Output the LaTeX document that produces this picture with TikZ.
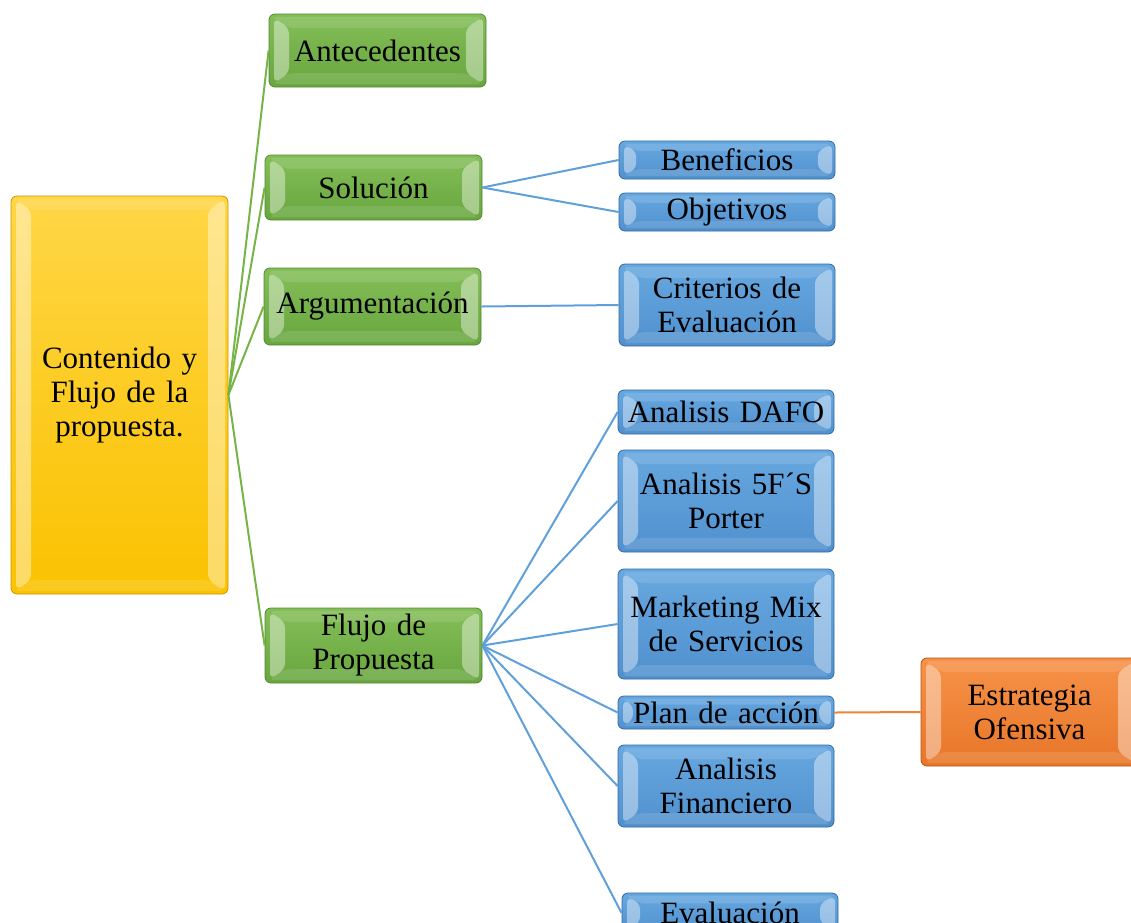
\documentclass[tikz,border=0pt]{standalone}
\usepackage{fontspec}
\setmainfont{Liberation Serif}
\usetikzlibrary{calc}

% palette
\definecolor{gtop}{RGB}{132,190,88}
\definecolor{gbot}{RGB}{104,166,62}
\definecolor{gline}{RGB}{84,134,52}
\definecolor{gconn}{RGB}{118,180,72}
\definecolor{btop}{RGB}{104,168,224}
\definecolor{bbot}{RGB}{80,144,206}
\definecolor{bline}{RGB}{52,104,160}
\definecolor{bconn}{RGB}{96,160,218}
\definecolor{ytop}{RGB}{255,214,70}
\definecolor{ybot}{RGB}{250,194,0}
\definecolor{yline}{RGB}{200,150,0}
\definecolor{otop}{RGB}{246,146,72}
\definecolor{obot}{RGB}{232,118,40}
\definecolor{oline}{RGB}{180,84,20}
\definecolor{oconn}{RGB}{240,130,52}

% bevelled faces painted inside every box
\newcommand\bevelfaces{%
  \path let \p1=(path picture bounding box.south west),
            \p2=(path picture bounding box.north east),
            \n1={min(20,0.45*(\y2-\y1))},
            \n2={min(14,0.26*(\y2-\y1))} in
    [fill=white,fill opacity=0.22]
      (\x1+5pt,\y2-4pt) -- (\x1+\n1*1pt,\y2-\n2*1pt) -- (\x1+\n1*1pt,\y1+\n2*1pt) -- (\x1+5pt,\y1+4pt) -- cycle
    [fill=white,fill opacity=0.4]
      (\x2-3pt,\y2-3pt) -- (\x2-\n1*1pt,\y2-\n2*1pt) -- (\x2-\n1*1pt,\y1+\n2*1pt) -- (\x2-3pt,\y1+3pt) -- cycle;
  \path let \p1=(path picture bounding box.south west),
            \p2=(path picture bounding box.north east),
            \n1={min(20,0.45*(\y2-\y1))},
            \n2={min(14,0.26*(\y2-\y1))} in
    [fill=black,fill opacity=0.08]
      (\x1+3pt,\y1+3pt) -- (\x1+\n1*1pt,\y1+\n2*1pt) -- (\x2-\n1*1pt,\y1+\n2*1pt) -- (\x2-3pt,\y1+3pt) -- cycle
    [fill=white,fill opacity=0.12]
      (\x1+3pt,\y2-3pt) -- (\x1+\n1*1pt,\y2-\n2*1pt) -- (\x2-\n1*1pt,\y2-\n2*1pt) -- (\x2-3pt,\y2-3pt) -- cycle;
}

\tikzset{
  box/.style={rounded corners=6pt, minimum width=217pt, text width=205pt,
    inner sep=0pt, align=center, line width=0.8pt,
    font=\fontsize{31}{34}\selectfont, path picture={\bevelfaces}},
  ybox/.style={box, draw=yline, top color=ytop, bottom color=ybot},
  gbox/.style={box, draw=gline, top color=gtop, bottom color=gbot},
  bbox/.style={box, minimum width=216pt, draw=bline, top color=btop, bottom color=bbot},
  obox/.style={box, draw=oline, top color=otop, bottom color=obot},
  gedge/.style={draw=gconn, line width=2pt},
  bedge/.style={draw=bconn, line width=2pt},
  oedge/.style={draw=oconn, line width=2pt},
}

\begin{document}
\begin{tikzpicture}[x=1pt,y=-1pt]
\useasboundingbox (0,0) rectangle (1131,922);
\clip (0,0) rectangle (1131,922);

% root
\node[ybox, minimum height=398pt] (root) at (119.5,395) {Contenido y\\Flujo de la\\propuesta.};

% first level
\node[gbox, minimum height=73pt] (ant) at (377.5,50.5) {Antecedentes};
\node[gbox, minimum height=65pt] (sol) at (373.5,187.5) {Solución};
\node[gbox, minimum height=77pt] (arg) at (372.5,306.5) {Argumentación\strut};
\node[gbox, minimum height=75pt] (flu) at (373.5,645.5) {Flujo de\\Propuesta};

% second level
\node[bbox, minimum height=38pt] (ben) at (727,160) {Beneficios};
\node[bbox, minimum height=38pt] (obj) at (727,212) {Objetivos};
\node[bbox, minimum height=82pt] (cri) at (727,305) {Criterios de\\Evaluación};
\node[bbox, minimum height=44pt] (dafo) at (726,412) {Analisis DAFO};
\node[bbox, minimum height=102pt] (por) at (726,501) {Analisis 5F´S\\Porter};
\node[bbox, minimum height=110pt] (mkt) at (726,624) {Marketing Mix\\de Servicios};
\node[bbox, minimum height=33pt] (plan) at (726,712.5) {Plan de acción};
\node[bbox, minimum height=82pt] (fin) at (726,786) {Analisis\\Financiero};
\node[bbox, minimum height=40pt] (eva) at (730,913) {Evaluación};

% third level
\node[obox, minimum height=108pt] (est) at (1029.5,712) {Estrategia\\Ofensiva};

% connectors
\foreach \t in {ant,sol,arg,flu} \draw[gedge] (root.east) -- (\t.west);
\foreach \t in {ben,obj} \draw[bedge] (sol.east) -- (\t.west);
\draw[bedge] (arg.east) -- (cri.west);
\foreach \t in {dafo,por,mkt,plan,fin,eva} \draw[bedge] (flu.east) -- (\t.west);
\draw[oedge] (plan.east) -- (est.west);
\end{tikzpicture}
\end{document}
